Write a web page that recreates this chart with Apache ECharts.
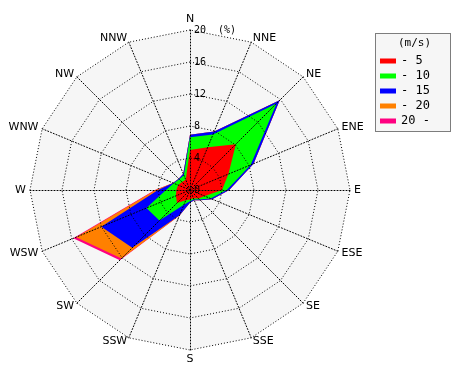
<!DOCTYPE html>
<html>
<head>
<meta charset="utf-8">
<script src="https://cdn.jsdelivr.net/npm/echarts@6/dist/echarts.min.js"></script>
<style>
  html, body { margin: 0; padding: 0; background: #fff; }
  #chart { width: 470px; height: 380px; }
</style>
</head>
<body>
<div id="chart"></div>
<script>
// directions, clockwise from north
var directions = ['N', 'NNE', 'NE', 'ENE', 'E', 'ESE', 'SE', 'SSE', 'S', 'SSW', 'SW', 'WSW', 'W', 'WNW', 'NW', 'NNW'];
var speedClasses = ['- 5', '- 10', '- 15', '- 20', '20 -'];
var classColors = ['#ff0000', '#00ff00', '#0000ff', '#ff8000', '#ff0080'];

// frequency (%) per speed class, one value per direction
var speed5  = [5.0, 5.8, 8.1, 5.2, 4.0, 2.0, 1.5, 1.1, 1.2, 1.4, 2.3, 1.9, 1.7, 1.6, 1.4, 1.4];
var speed10 = [1.6, 1.7, 7.2, 3.0, 0.6, 0.8, 0.2, 0.2, 0.2, 0.6, 3.1, 4.0, 1.3, 0.6, 0.5, 0.6];
var speed15 = [0.3, 0.4, 0.55, 0.4, 0.3, 0.2, 0.1, 0.1, 0.2, 1.4, 4.8, 6.1, 1.0, 0.1, 0.1, 0.2];
var speed20 = [0.0, 0.0, 0.0, 0.0, 0.0, 0.0, 0.0, 0.0, 0.0, 0.1, 1.9, 3.4, 0.3, 0.0, 0.0, 0.0];
var speed20up = [0.0, 0.0, 0.0, 0.0, 0.0, 0.0, 0.0, 0.0, 0.0, 0.0, 0.3, 0.4, 0.1, 0.0, 0.0, 0.0];

var radiusTicks = [0, 4, 8, 12, 16, 20];

var classes = [speed5, speed10, speed15, speed20, speed20up];

// echarts radar goes counter clockwise, so walk the directions backwards
var order = [0];
for (var i = directions.length - 1; i > 0; i--) order.push(i);

function makeIndicators(withLabel) {
    return order.map(function (d, k) {
        var ind = { name: directions[d], min: 0, max: radiusTicks[radiusTicks.length - 1] };
        if (withLabel && k === 0) {
            ind.axisLabel = {
                show: true, color: '#000', fontSize: 10, fontFamily: 'DejaVu Sans Mono',
                showMinLabel: true, margin: -4, align: 'left',
                verticalAlign: 'middle', padding: [0, 0, 6, 0],
                formatter: function (v) { return v === 20 ? '20  (%)' : v; }
            };
        }
        return ind;
    });
}

// stacked totals
var running = directions.map(function () { return 0; });
var cumulative = classes.map(function (arr) {
    running = running.map(function (r, i) { return +(r + arr[i]).toFixed(2); });
    return running.slice();
});

var series = [];
for (var c = classes.length - 1; c >= 0; c--) {
    series.push({
        name: speedClasses[c],
        type: 'radar',
        radarIndex: 0,
        z: 1,
        symbol: 'none',
        silent: true,
        itemStyle: { color: classColors[c] },
        lineStyle: { width: 0 },
        areaStyle: { color: classColors[c], opacity: 1 },
        data: [{ name: speedClasses[c], value: order.map(function (d) { return cumulative[c][d]; }) }]
    });
}

var myChart = echarts.init(document.getElementById('chart'));

var radarBase = {
    center: [190, 190],
    radius: 160,
    startAngle: 90,
    splitNumber: 5,
    shape: 'polygon'
};

var option = {
    animation: false,
    legend: {
        orient: 'vertical',
        left: 375,
        top: 50,
        data: speedClasses,
        icon: 'rect',
        itemWidth: 16,
        itemHeight: 5,
        itemGap: 3,
        selectedMode: false,
        textStyle: { color: '#000', fontSize: 12, fontFamily: 'DejaVu Sans Mono' }
    },
    graphic: [
        {
            type: 'rect', left: 375, top: 33, z: -1,
            shape: { width: 75, height: 98 },
            style: { fill: '#f6f6f6', stroke: '#000', lineWidth: 1, lineDash: [1, 1] }
        },
        {
            type: 'text', left: 398, top: 38,
            style: { text: '(m/s)', fill: '#000', font: '11px DejaVu Sans Mono' }
        }
    ],
    radar: [
        // background only, under the wind areas
        echarts.util.extend({
            z: 0,
            indicator: makeIndicators(false),
            axisName: { show: false },
            axisLine: { show: false },
            splitLine: { show: false },
            splitArea: { show: true, areaStyle: { color: ['#f6f6f6'] } },
            axisLabel: { show: false },
            axisTick: { show: false }
        }, radarBase),
        // dotted grid, names and ticks on top
        echarts.util.extend({
            z: 3,
            indicator: makeIndicators(true),
            axisName: { color: '#000', fontSize: 11, fontFamily: 'DejaVu Sans' },
            nameGap: 4,
            axisLine: { lineStyle: { color: '#000', type: [1, 2], width: 1 } },
            splitLine: { lineStyle: { color: '#000', type: [1, 2], width: 1 } },
            splitArea: { show: false },
            axisLabel: { show: false },
            axisTick: { show: false }
        }, radarBase)
    ],
    series: series
};

myChart.setOption(option);
</script>
</body>
</html>
